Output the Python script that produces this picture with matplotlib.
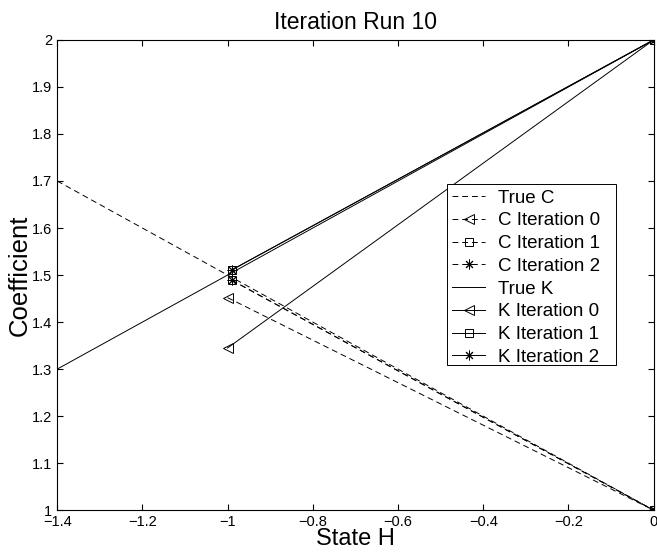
import numpy as np
import matplotlib.pyplot as plt
from matplotlib.patches import Rectangle

plt.rcParams['font.family'] = ['Liberation Sans', 'DejaVu Sans']

# true lines
h_true = [-1.4, 0]
c_true = [1.7, 1.0]
k_true = [1.3, 2.0]

# iterations (state H, coefficient)
h_it0 = [-1.0, 0]
c_it0 = [1.452, 1.0]
k_it0 = [1.345, 2.0]

h_it1 = [-0.99, 0]
c_it1 = [1.489, 1.0]
k_it1 = [1.511, 2.0]

h_it2 = [-0.99, 0]
c_it2 = [1.489, 1.0]
k_it2 = [1.511, 2.0]

fig = plt.figure(figsize=(6.57, 5.54), dpi=100)
ax = fig.add_axes([0.087, 0.079, 0.908, 0.849])

lw = 0.7
ms = 7
star = (8, 2, 0)
ax.plot(h_true, c_true, 'k--', lw=lw, dashes=(6, 4), label='True C')
ax.plot(h_it0, c_it0, 'k--', lw=lw, dashes=(6, 4), marker='<', mfc='none', mew=0.7, ms=ms, label='C Iteration 0')
ax.plot(h_it1, c_it1, 'k--', lw=lw, dashes=(6, 4), marker='s', mfc='none', mew=0.7, ms=ms - 1, label='C Iteration 1')
ax.plot(h_it2, c_it2, 'k--', lw=lw, dashes=(6, 4), marker=star, mew=0.7, ms=ms, label='C Iteration 2')
ax.plot(h_true, k_true, 'k-', lw=lw, label='True K')
ax.plot(h_it0, k_it0, 'k-', lw=lw, marker='<', mfc='none', mew=0.7, ms=ms, label='K Iteration 0')
ax.plot(h_it1, k_it1, 'k-', lw=lw, marker='s', mfc='none', mew=0.7, ms=ms - 1, label='K Iteration 1')
ax.plot(h_it2, k_it2, 'k-', lw=lw, marker=star, mew=0.7, ms=ms, label='K Iteration 2')

ax.set_xlim(-1.4, 0)
ax.set_ylim(1, 2)
ax.set_xticks(np.arange(-1.4, 0.01, 0.2))
ax.set_xticklabels(['\u22121.4', '\u22121.2', '\u22121', '\u22120.8', '\u22120.6', '\u22120.4', '\u22120.2', '0'])
ax.set_yticks(np.arange(1, 2.01, 0.1))
ax.set_yticklabels(['1', '1.1', '1.2', '1.3', '1.4', '1.5', '1.6', '1.7', '1.8', '1.9', '2'])
ax.tick_params(direction='in', top=True, right=True, labelsize=10.5, length=4)

ax.set_title('Iteration Run 10', fontsize=16.5, pad=8)
ax.set_xlabel('State H', fontsize=17, labelpad=-1)
ax.set_ylabel('Coefficient', fontsize=18.5, labelpad=0)

# legend box, MATLAB style (wider on the right)
ax.add_patch(Rectangle((0.653, 0.3085), 0.283, 0.385, transform=ax.transAxes,
                       facecolor='white', edgecolor='black', lw=0.7, zorder=4))
leg = ax.legend(loc='upper left', bbox_to_anchor=(0.653, 0.694), borderaxespad=0,
                fontsize=13.5, frameon=False,
                handlelength=1.75, labelspacing=0.30, borderpad=0.3, handletextpad=0.7)
leg.set_zorder(5)

fig.savefig('out.png', dpi=100)
